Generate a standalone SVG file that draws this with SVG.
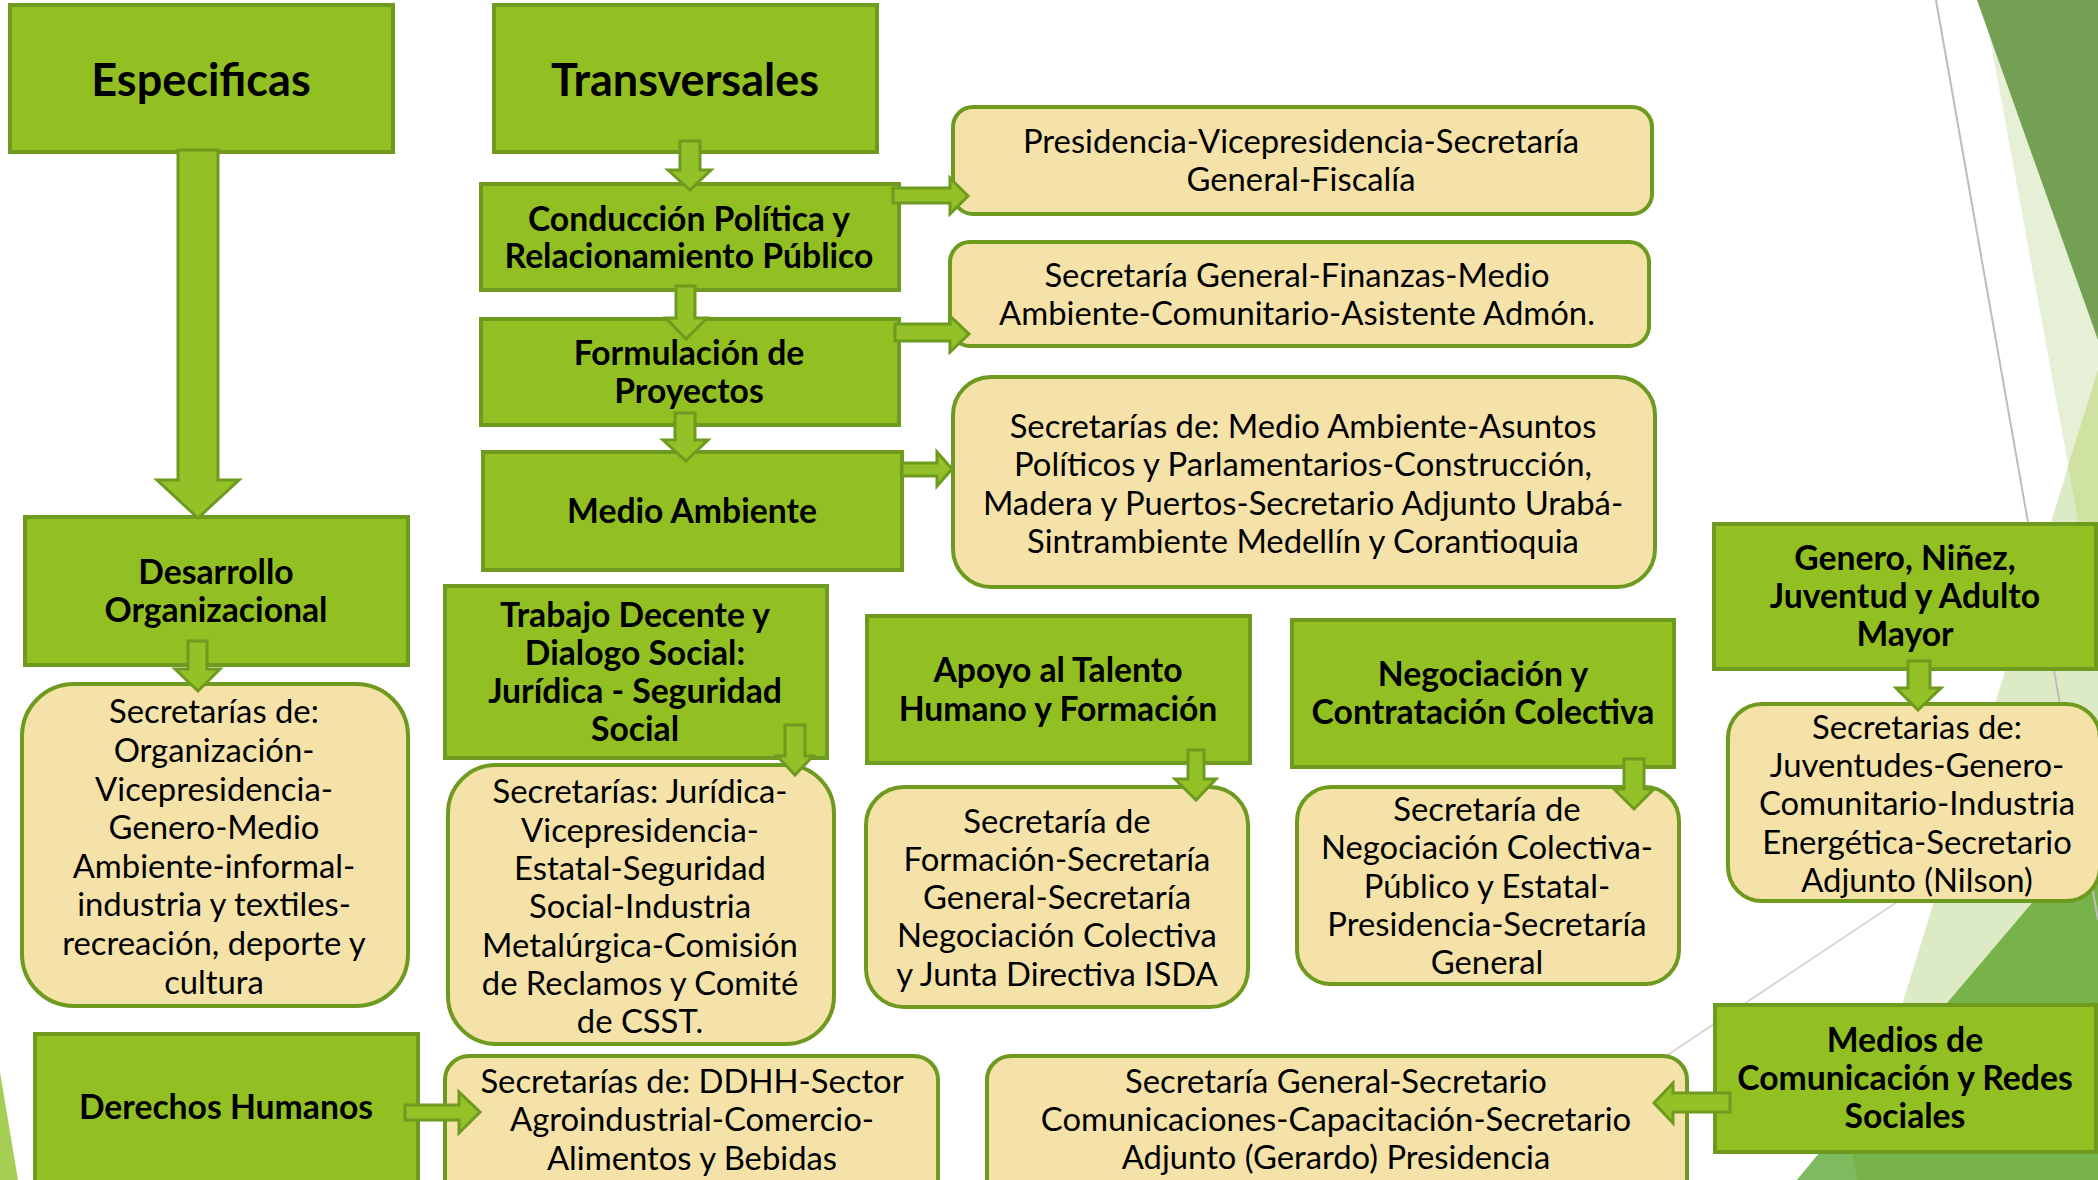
<svg xmlns="http://www.w3.org/2000/svg" width="2098" height="1180" viewBox="0 0 2098 1180">
<style>
.g{fill:#92C023;stroke:#6E9A1F;stroke-width:4}
.y{fill:#F4E2A8;stroke:#6E9A1F;stroke-width:4}
.ar{fill:#93C127;stroke:#6E9A1F;stroke-width:3;stroke-linejoin:miter}
.tb{font-family:Lato,"Open Sans","DejaVu Sans",sans-serif;font-weight:700;font-size:33.7px;fill:#000;text-anchor:middle}
.tr{font-family:Lato,"Open Sans","DejaVu Sans",sans-serif;font-weight:400;font-size:32.8px;fill:#000;text-anchor:middle}
.th{font-size:45px}
</style>
<rect width="2098" height="1180" fill="#FFFFFF"/>
<g id="background">
  <polygon points="1983,0 2098,0 2098,628" fill="#E6F0D7"/>
  <polygon points="2098,370 2098,1180 1848,1180" fill="#DCEBC5"/>
  <polygon points="2068,466 2098,370 2098,628" fill="#CFE2A1"/>
  <polygon points="1977,0 2098,0 2098,340" fill="#73A052"/>
  <polygon points="2098,825 2098,1180 1797,1180" fill="#77B348"/>
  <polygon points="1797,1180 1820,1152 1852,1152 1857,1180" fill="#80BA5E"/>
  <polygon points="0,1072 18,1180 0,1180" fill="#A6CE55"/>
  <line x1="1936" y1="0" x2="2098" y2="920" stroke="#BDBDBD" stroke-width="2"/>
  <line x1="2098" y1="768" x2="1600" y2="1100" stroke="#D6D6D6" stroke-width="2"/>
</g>
<g id="nodes">
  <g id="n-especificas"><rect class="g" x="10" y="5" width="383" height="147"/><text class="tb th" x="201" y="96">Especificas</text></g>
  <g id="n-transversales"><rect class="g" x="494" y="5" width="383" height="147"/><text class="tb th" x="685" y="96">Transversales</text></g>
  <g id="n-conduccion"><rect class="g" x="481" y="184" width="418" height="106"/><text class="tb"><tspan x="689" y="231">Conducción Política y</tspan><tspan x="689" y="268">Relacionamiento Público</tspan></text></g>
  <g id="n-formulacion"><rect class="g" x="481" y="319" width="418" height="106"/><text class="tb"><tspan x="689" y="365">Formulación de</tspan><tspan x="689" y="403">Proyectos</tspan></text></g>
  <g id="n-medio"><rect class="g" x="483" y="452" width="419" height="118"/><text class="tb" x="692" y="523">Medio Ambiente</text></g>
  <g id="n-desarrollo"><rect class="g" x="25" y="517" width="383" height="148"/><text class="tb"><tspan x="216" y="584">Desarrollo</tspan><tspan x="216" y="622">Organizacional</tspan></text></g>
  <g id="n-trabajo"><rect class="g" x="445" y="586" width="382" height="172"/><text class="tb"><tspan x="635" y="627">Trabajo Decente y</tspan><tspan x="635" y="665">Dialogo Social:</tspan><tspan x="635" y="703">Jurídica - Seguridad</tspan><tspan x="635" y="741">Social</tspan></text></g>
  <g id="n-derechos"><rect class="g" x="35" y="1034" width="383" height="160"/><text class="tb" x="226" y="1119">Derechos Humanos</text></g>
  <g id="n-apoyo"><rect class="g" x="867" y="616" width="383" height="147"/><text class="tb"><tspan x="1058" y="682">Apoyo al Talento</tspan><tspan x="1058" y="721">Humano y Formación</tspan></text></g>
  <g id="n-negociacion"><rect class="g" x="1292" y="620" width="382" height="147"/><text class="tb"><tspan x="1483" y="686">Negociación y</tspan><tspan x="1483" y="724">Contratación Colectiva</tspan></text></g>
  <g id="n-genero"><rect class="g" x="1714" y="524" width="382" height="145"/><text class="tb"><tspan x="1905" y="570">Genero, Niñez,</tspan><tspan x="1905" y="608">Juventud y Adulto</tspan><tspan x="1905" y="646">Mayor</tspan></text></g>
  <g id="n-medios"><rect class="g" x="1715" y="1005" width="381" height="147"/><text class="tb"><tspan x="1905" y="1052">Medios de</tspan><tspan x="1905" y="1090">Comunicación y Redes</tspan><tspan x="1905" y="1128">Sociales</tspan></text></g>

  <g id="s-presidencia"><rect class="y" x="953" y="107" width="699" height="107" rx="20"/><text class="tr"><tspan x="1301" y="153">Presidencia-Vicepresidencia-Secretaría</tspan><tspan x="1301" y="191">General-Fiscalía</tspan></text></g>
  <g id="s-finanzas"><rect class="y" x="950" y="242" width="699" height="104" rx="20"/><text class="tr"><tspan x="1297" y="287">Secretaría General-Finanzas-Medio</tspan><tspan x="1297" y="325">Ambiente-Comunitario-Asistente Admón.</tspan></text></g>
  <g id="s-medio"><rect class="y" x="953" y="377" width="702" height="210" rx="38"/><text class="tr"><tspan x="1303" y="438">Secretarías de: Medio Ambiente-Asuntos</tspan><tspan x="1303" y="476">Políticos y Parlamentarios-Construcción,</tspan><tspan x="1303" y="515">Madera y Puertos-Secretario Adjunto Urabá-</tspan><tspan x="1303" y="553">Sintrambiente Medellín y Corantioquia</tspan></text></g>
  <g id="s-desarrollo"><rect class="y" x="22" y="684" width="386" height="322" rx="52"/><text class="tr"><tspan x="214" y="723">Secretarías de:</tspan><tspan x="214" y="762">Organización-</tspan><tspan x="214" y="801">Vicepresidencia-</tspan><tspan x="214" y="839">Genero-Medio</tspan><tspan x="214" y="878">Ambiente-informal-</tspan><tspan x="214" y="916">industria y textiles-</tspan><tspan x="214" y="955">recreación, deporte y</tspan><tspan x="214" y="994">cultura</tspan></text></g>
  <g id="s-juridica"><rect class="y" x="448" y="765" width="386" height="279" rx="48"/><text class="tr"><tspan x="640" y="803">Secretarías: Jurídica-</tspan><tspan x="640" y="842">Vicepresidencia-</tspan><tspan x="640" y="880">Estatal-Seguridad</tspan><tspan x="640" y="918">Social-Industria</tspan><tspan x="640" y="957">Metalúrgica-Comisión</tspan><tspan x="640" y="995">de Reclamos y Comité</tspan><tspan x="640" y="1033">de CSST.</tspan></text></g>
  <g id="s-ddhh"><rect class="y" x="445" y="1056" width="493" height="150" rx="24"/><text class="tr"><tspan x="692" y="1093">Secretarías de: DDHH-Sector</tspan><tspan x="692" y="1131">Agroindustrial-Comercio-</tspan><tspan x="692" y="1170">Alimentos y Bebidas</tspan></text></g>
  <g id="s-formacion"><rect class="y" x="866" y="787" width="382" height="220" rx="38"/><text class="tr"><tspan x="1057" y="833">Secretaría de</tspan><tspan x="1057" y="871">Formación-Secretaría</tspan><tspan x="1057" y="909">General-Secretaría</tspan><tspan x="1057" y="947">Negociación Colectiva</tspan><tspan x="1057" y="986">y Junta Directiva ISDA</tspan></text></g>
  <g id="s-negociacion"><rect class="y" x="1297" y="787" width="382" height="197" rx="34"/><text class="tr"><tspan x="1487" y="821">Secretaría de</tspan><tspan x="1487" y="859">Negociación Colectiva-</tspan><tspan x="1487" y="898">Público y Estatal-</tspan><tspan x="1487" y="936">Presidencia-Secretaría</tspan><tspan x="1487" y="974">General</tspan></text></g>
  <g id="s-juventudes"><rect class="y" x="1728" y="704" width="372" height="197" rx="34"/><text class="tr"><tspan x="1917" y="739">Secretarias de:</tspan><tspan x="1917" y="777">Juventudes-Genero-</tspan><tspan x="1917" y="815">Comunitario-Industria</tspan><tspan x="1917" y="854">Energética-Secretario</tspan><tspan x="1917" y="892">Adjunto (Nilson)</tspan></text></g>
  <g id="s-comunicaciones"><rect class="y" x="987" y="1056" width="700" height="150" rx="24"/><text class="tr"><tspan x="1336" y="1093">Secretaría General-Secretario</tspan><tspan x="1336" y="1131">Comunicaciones-Capacitación-Secretario</tspan><tspan x="1336" y="1169">Adjunto (Gerardo) Presidencia</tspan></text></g>
</g>
<g id="connectors">
  <polygon class="ar" points="178,150 218,150 218,480 239,480 198,518 157,480 178,480"/>
  <polygon class="ar" points="680,141 700,141 700,170 711,170 690,190 668,170 680,170"/>
  <polygon class="ar" points="676,286 695,286 695,318 707,318 686,339 666,318 676,318"/>
  <polygon class="ar" points="675,413 695,413 695,440 708,440 686,461 663,440 675,440"/>
  <polygon class="ar" points="893,188 950,188 950,178 968,196 950,214 950,203 893,203"/>
  <polygon class="ar" points="895,324 950,324 950,316 969,334 950,352 950,341 895,341"/>
  <polygon class="ar" points="902,463 937,463 937,452 952,469 937,486 937,476 902,476"/>
  <polygon class="ar" points="188,641 207,641 207,669 220,669 198,691 175,669 188,669"/>
  <polygon class="ar" points="785,725 805,725 805,756 813,756 795,775 777,756 785,756"/>
  <polygon class="ar" points="405,1105 459,1105 459,1092 480,1112 459,1133 459,1120 405,1120"/>
  <polygon class="ar" points="1188,750 1204,750 1204,779 1216,779 1196,800 1175,779 1188,779"/>
  <polygon class="ar" points="1624,759 1644,759 1644,789 1654,789 1634,809 1614,789 1624,789"/>
  <polygon class="ar" points="1908,661 1930,661 1930,688 1941,688 1918,710 1896,688 1908,688"/>
  <polygon class="ar" points="1730,1093 1673,1093 1673,1083 1654,1103 1673,1123 1673,1112 1730,1112"/>
</g>
</svg>
